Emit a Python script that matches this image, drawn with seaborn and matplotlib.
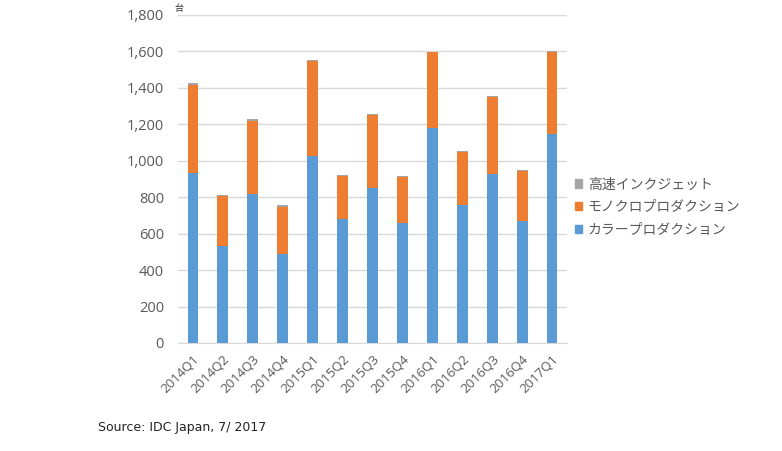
import numpy as np
import pandas as pd
import matplotlib
matplotlib.use('Agg')
import matplotlib.pyplot as plt
from matplotlib.patches import Patch
import seaborn as sns

quarters = ['2014Q1', '2014Q2', '2014Q3', '2014Q4', '2015Q1', '2015Q2', '2015Q3',
            '2015Q4', '2016Q1', '2016Q2', '2016Q3', '2016Q4', '2017Q1']
color_prod = [935, 535, 818, 489, 1024, 682, 853, 656, 1178, 760, 927, 667, 1147]
mono_prod = [483, 272, 400, 260, 523, 234, 398, 255, 417, 289, 422, 275, 451]
inkjet = [10, 3, 9, 9, 6, 6, 7, 7, 3, 5, 7, 7, 5]

series_names = ['高速インクジェット', 'モノクロプロダクション', 'カラープロダクション']
yticks = [0, 200, 400, 600, 800, 1000, 1200, 1400, 1600, 1800]

c_blue = '#5B9BD5'
c_orange = '#ED7D31'
c_gray = '#A5A5A5'
txt = '#595959'

sns.set_style('white')
plt.rcParams['font.family'] = ['Open Sans', 'Noto Sans CJK JP']

df = pd.DataFrame({'quarter': quarters, 'color': color_prod,
                   'mono': mono_prod, 'inkjet': inkjet})
df['lvl2'] = df['color'] + df['mono']
df['lvl3'] = df['lvl2'] + df['inkjet']

fig = plt.figure(figsize=(7.82, 4.51), dpi=100)
ax = fig.add_axes([178 / 782, 1 - 343 / 451, (567 - 178) / 782, (343 - 15) / 451])

# stacked bars drawn as cumulative totals, top layer first
for col, c in [('lvl3', c_gray), ('lvl2', c_orange), ('color', c_blue)]:
    sns.barplot(data=df, x='quarter', y=col, color=c, width=0.36,
                saturation=1, linewidth=0, ax=ax, zorder=3)

ax.set_ylim(0, 1800)
ax.set_xlim(-0.5, len(quarters) - 0.5)
ax.set_yticks(yticks)
ax.set_yticklabels([f'{v:,}' for v in yticks], color=txt, fontsize=10.5)
ax.set_xticks(range(len(quarters)))
ax.set_xticklabels(quarters, rotation=45, ha='right', rotation_mode='anchor',
                   color=txt, fontsize=9.5)
ax.tick_params(axis='y', length=0, pad=10)
ax.tick_params(axis='x', length=0, pad=7)
ax.set_xlabel('')
ax.set_ylabel('')
ax.yaxis.grid(True, color='#D9D9D9', linewidth=1, zorder=0)
for s in ['top', 'right', 'left']:
    ax.spines[s].set_visible(False)
ax.spines['bottom'].set_color('#D9D9D9')

fig.text(174 / 782, 1 - 8 / 451, '台', fontsize=6.5,
         family=['Noto Sans CJK JP'], color='#333333', va='center')

handles = [Patch(color=c_gray), Patch(color=c_orange), Patch(color=c_blue)]
leg = fig.legend(handles, series_names, loc='center left',
                 bbox_to_anchor=(562 / 782, 1 - 207 / 451), frameon=False,
                 prop={'family': ['Noto Sans CJK JP'], 'size': 10},
                 handlelength=0.55, handleheight=0.55, handletextpad=0.4,
                 labelspacing=0.62)
for t in leg.get_texts():
    t.set_color(txt)

fig.text(98 / 782, 1 - 427 / 451, 'Source: IDC Japan, 7/ 2017', fontsize=9,
         family=['DejaVu Sans'], color='#222222', va='center')

fig.savefig('out.png', dpi=100)
